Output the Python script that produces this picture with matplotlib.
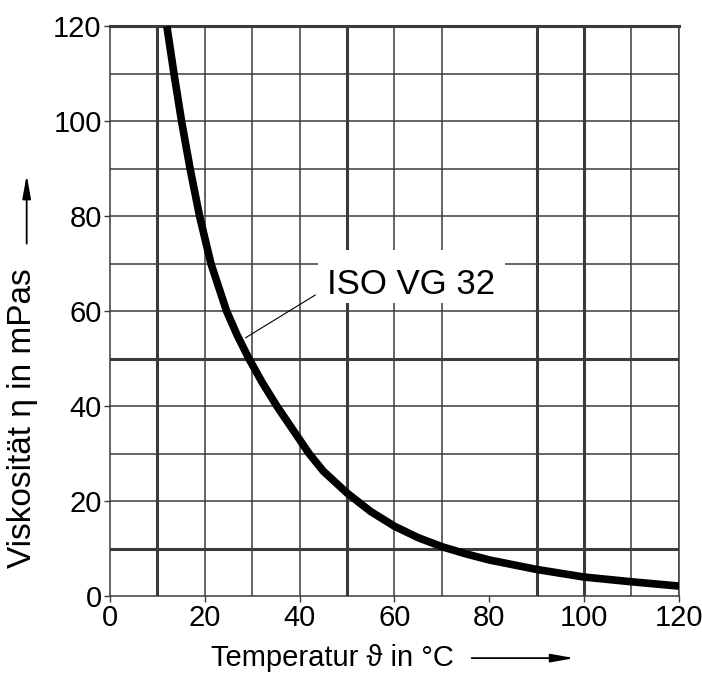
import matplotlib.pyplot as plt
from matplotlib.patches import Rectangle

plt.rcParams['font.family'] = ['Liberation Sans', 'DejaVu Sans']

# Kurve ISO VG 32
temp = [12.0, 13.5, 15.1, 16.9, 18.9, 21.3, 24.6, 26.8, 29.3, 32.1, 35.2, 42.0, 45, 50, 55, 60, 65, 70, 75, 80, 90, 100, 110, 120]
visk = [120, 110, 100, 90, 80, 70, 60, 55, 50, 45, 40, 30, 26.3, 21.7, 17.8, 14.7, 12.3, 10.4, 8.9, 7.6, 5.6, 4.0, 3.0, 2.1]

x_ticks = [0, 20, 40, 60, 80, 100, 120]
y_ticks = [0, 20, 40, 60, 80, 100, 120]
x_grid = [10, 20, 30, 40, 50, 60, 70, 90, 100, 110, 120]
x_grid_heavy = [10, 50, 90, 100]
y_grid = [10, 20, 30, 40, 50, 60, 70, 80, 90, 100, 110, 120]
y_grid_heavy = [10, 50, 120]

fig = plt.figure(figsize=(7.02, 6.75), dpi=100)
ax = fig.add_axes([0.1567, 0.117, 0.8103, 0.844])

for gx in x_grid:
    ax.axvline(gx, color='#3a3a3a', lw=2.2 if gx in x_grid_heavy else 1.1, zorder=1)
for gy in y_grid:
    ax.axhline(gy, color='#3a3a3a', lw=2.2 if gy in y_grid_heavy else 1.1, zorder=1)

# weisses Feld hinter der Beschriftung
ax.add_patch(Rectangle((43.9, 61.7), 39.4, 11.1, facecolor='white', edgecolor='none', zorder=2))
ax.text(63.6, 65.6, 'ISO VG 32', fontsize=25, ha='center', va='center', zorder=3)
ax.plot([43.3, 28.6], [63.4, 54.4], color='black', lw=0.8, zorder=3)

ax.plot(temp, visk, color='black', lw=5.5, solid_capstyle='butt', solid_joinstyle='round', zorder=4)

ax.set_xlim(0, 120)
ax.set_ylim(0, 120)
ax.set_xticks(x_ticks)
ax.set_yticks(y_ticks)
ax.tick_params(labelsize=21, length=4, width=1, color='#3a3a3a', pad=2)
for s in ax.spines.values():
    s.set_color('#3a3a3a')
    s.set_linewidth(1.1)
ax.spines['top'].set_linewidth(2.2)

fig.text(0.473, 0.025, 'Temperatur ϑ in °C', fontsize=21, ha='center', va='center')
fig.text(0.032, 0.38, 'Viskosität η in mPas', fontsize=24, ha='center', va='center', rotation=90)
ax.annotate('', xy=(0.822, 0.025), xytext=(0.668, 0.025), xycoords='figure fraction',
            arrowprops=dict(arrowstyle='-|>,head_length=1.4,head_width=0.25', color='black', lw=1.3))
ax.annotate('', xy=(0.038, 0.745), xytext=(0.038, 0.635), xycoords='figure fraction',
            arrowprops=dict(arrowstyle='-|>,head_length=1.4,head_width=0.25', color='black', lw=1.3))

fig.savefig('out.png', dpi=100)
